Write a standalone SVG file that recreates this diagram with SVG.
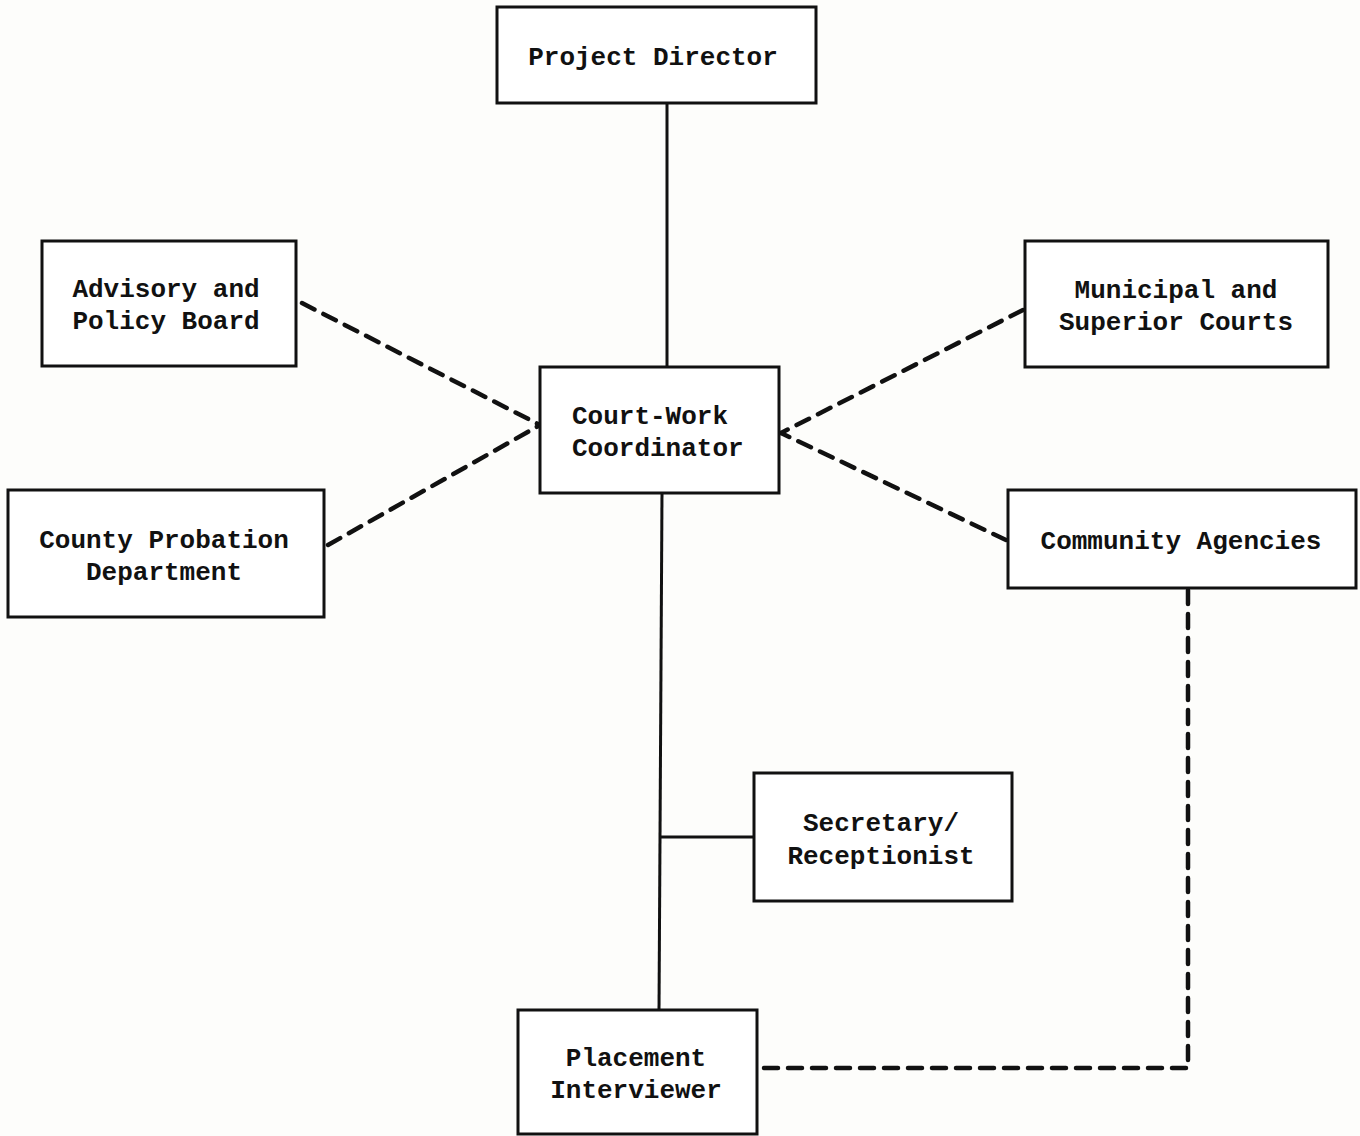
<svg xmlns="http://www.w3.org/2000/svg" width="1360" height="1136" viewBox="0 0 1360 1136">
<style>
.box{fill:#fff;stroke:#111;stroke-width:3}
.t{font-family:"Liberation Mono","Courier New",monospace;font-weight:bold;font-size:26px;fill:#111;text-anchor:middle}
.solid{stroke:#111;stroke-width:3;fill:none}
.dash{stroke:#111;stroke-width:4.5;fill:none;stroke-dasharray:14 10;stroke-linecap:round}
</style>
<rect width="1360" height="1136" fill="#fdfdfb"/>
<g id="connectors">
<line class="solid" x1="667" y1="103" x2="667" y2="367"/>
<line class="solid" x1="662" y1="493" x2="659" y2="1010"/>
<line class="solid" x1="661" y1="837" x2="754" y2="837"/>
<line class="dash" x1="302" y1="303" x2="540" y2="425"/>
<line class="dash" x1="328" y1="545" x2="540" y2="425"/>
<line class="dash" x1="1023" y1="310" x2="781" y2="433"/>
<line class="dash" x1="1006" y1="540" x2="781" y2="433"/>
<polyline class="dash" points="1188,590 1188,1068 759,1068"/>
</g>
<g id="project-director">
<rect class="box" x="497" y="7" width="319" height="96"/>
<text class="t" x="653" y="65">Project Director</text>
</g>
<g id="advisory-board">
<rect class="box" x="42" y="241" width="254" height="125"/>
<text class="t" x="166" y="297">Advisory and</text>
<text class="t" x="166" y="329">Policy Board</text>
</g>
<g id="municipal-courts">
<rect class="box" x="1025" y="241" width="303" height="126"/>
<text class="t" x="1176" y="298">Municipal and</text>
<text class="t" x="1176" y="330">Superior Courts</text>
</g>
<g id="court-work-coordinator">
<rect class="box" x="540" y="367" width="239" height="126"/>
<text class="t" x="572" y="424" text-anchor="start" style="text-anchor:start">Court-Work</text>
<text class="t" x="572" y="456" style="text-anchor:start">Coordinator</text>
</g>
<g id="county-probation">
<rect class="box" x="8" y="490" width="316" height="127"/>
<text class="t" x="164" y="548">County Probation</text>
<text class="t" x="164" y="580">Department</text>
</g>
<g id="community-agencies">
<rect class="box" x="1008" y="490" width="348" height="98"/>
<text class="t" x="1181" y="549">Community Agencies</text>
</g>
<g id="secretary">
<rect class="box" x="754" y="773" width="258" height="128"/>
<text class="t" x="881" y="831">Secretary/</text>
<text class="t" x="881" y="864">Receptionist</text>
</g>
<g id="placement-interviewer">
<rect class="box" x="518" y="1010" width="239" height="124"/>
<text class="t" x="636" y="1066">Placement</text>
<text class="t" x="636" y="1098">Interviewer</text>
</g>
</svg>
